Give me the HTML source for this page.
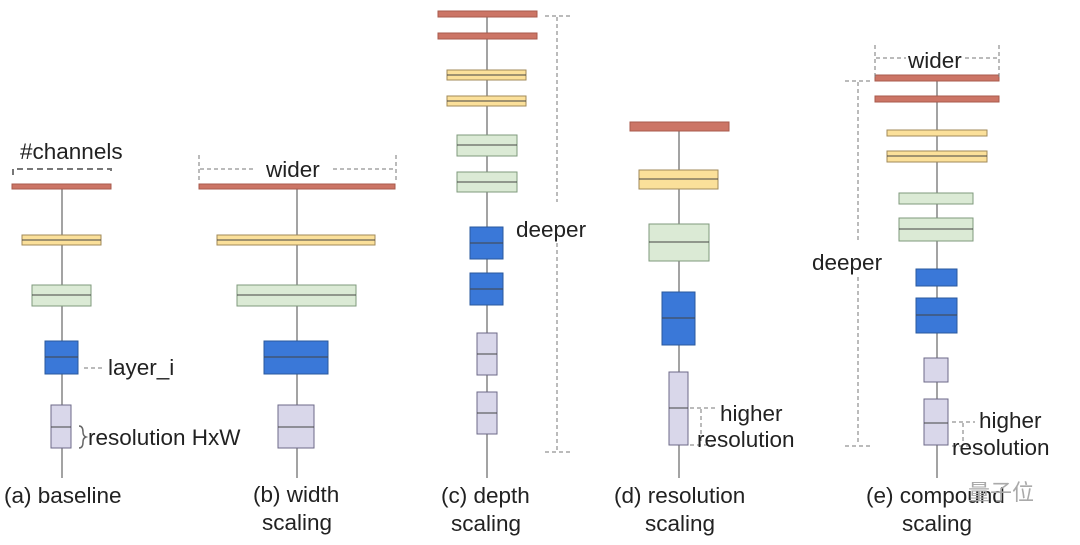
<!DOCTYPE html>
<html><head><meta charset="utf-8"><style>
html,body{margin:0;padding:0;background:#fff;}
svg text{font-family:"Liberation Sans",Arial,sans-serif;fill:#222;font-size:22.5px;}
.r{fill:#cc7566;stroke:#a85a4c;stroke-width:1}
.y{fill:#fbe09a;stroke:#a08a5a;stroke-width:1}
.g{fill:#dbead5;stroke:#7f9a7c;stroke-width:1}
.b{fill:#3a78d8;stroke:#2a589e;stroke-width:1}
.l{fill:#d9d7ea;stroke:#6d6a88;stroke-width:1}
.m{stroke:#444;stroke-width:1}
.ln{stroke:#666;stroke-width:1.2;fill:none}
.d{stroke:#777;stroke-width:1;stroke-dasharray:4,3;fill:none}
</style></head><body>
<svg width="1080" height="540" viewBox="0 0 1080 540" xmlns="http://www.w3.org/2000/svg">
<line class="ln" x1="62" y1="478" x2="62" y2="189"/>
<line class="ln" x1="297" y1="478" x2="297" y2="189"/>
<line class="ln" x1="487" y1="478" x2="487" y2="17"/>
<line class="ln" x1="679" y1="478" x2="679" y2="131"/>
<line class="ln" x1="937" y1="478" x2="937" y2="81"/>

<rect class="r" x="12" y="184" width="99" height="5"/>
<rect class="y" x="22" y="235" width="79" height="10"/><line class="m" x1="22" y1="240" x2="101" y2="240"/>
<rect class="g" x="32" y="285" width="59" height="21"/><line class="m" x1="32" y1="295" x2="91" y2="295"/>
<rect class="b" x="45" y="341" width="33" height="33"/><line class="m" x1="45" y1="357" x2="78" y2="357"/>
<rect class="l" x="51" y="405" width="20" height="43"/><line class="m" x1="51" y1="427" x2="71" y2="427"/>
<text x="20" y="159">#channels</text>
<path class="d" d="M13,175 V169 H111 V175" style="stroke-dasharray:6,4;stroke-width:2"/>
<line class="d" x1="84" y1="368" x2="104" y2="368"/>
<text x="108" y="375">layer_i</text>
<path d="M79,426 q4,0 4,6 q0,4 3,5 q-3,1 -3,5 q0,6 -4,6" stroke="#666" fill="none" stroke-width="1.5"/>
<text x="88" y="445">resolution HxW</text>
<text x="4" y="503">(a) baseline</text>

<rect class="r" x="199" y="184" width="196" height="5"/>
<rect class="y" x="217" y="235" width="158" height="10"/><line class="m" x1="217" y1="240" x2="375" y2="240"/>
<rect class="g" x="237" y="285" width="119" height="21"/><line class="m" x1="237" y1="295" x2="356" y2="295"/>
<rect class="b" x="264" y="341" width="64" height="33"/><line class="m" x1="264" y1="357" x2="328" y2="357"/>
<rect class="l" x="278" y="405" width="36" height="43"/><line class="m" x1="278" y1="427" x2="314" y2="427"/>
<line class="d" x1="199" y1="155" x2="199" y2="182"/><line class="d" x1="396" y1="155" x2="396" y2="182"/>
<line class="d" x1="200" y1="169" x2="255" y2="169"/><line class="d" x1="333" y1="169" x2="395" y2="169"/>
<text x="266" y="177">wider</text>
<text x="253" y="502">(b) width</text>
<text x="262" y="530">scaling</text>

<rect class="r" x="438" y="11" width="99" height="6"/>
<rect class="r" x="438" y="33" width="99" height="6"/>
<rect class="y" x="447" y="70" width="79" height="10"/><line class="m" x1="447" y1="75" x2="526" y2="75"/>
<rect class="y" x="447" y="96" width="79" height="10"/><line class="m" x1="447" y1="101" x2="526" y2="101"/>
<rect class="g" x="457" y="135" width="60" height="21"/><line class="m" x1="457" y1="145" x2="517" y2="145"/>
<rect class="g" x="457" y="172" width="60" height="20"/><line class="m" x1="457" y1="182" x2="517" y2="182"/>
<rect class="b" x="470" y="227" width="33" height="32"/><line class="m" x1="470" y1="243" x2="503" y2="243"/>
<rect class="b" x="470" y="273" width="33" height="32"/><line class="m" x1="470" y1="289" x2="503" y2="289"/>
<rect class="l" x="477" y="333" width="20" height="42"/><line class="m" x1="477" y1="354" x2="497" y2="354"/>
<rect class="l" x="477" y="392" width="20" height="42"/><line class="m" x1="477" y1="413" x2="497" y2="413"/>
<line class="d" x1="545" y1="16" x2="570" y2="16"/><line class="d" x1="545" y1="452" x2="570" y2="452"/>
<line class="d" x1="557" y1="17" x2="557" y2="202"/><line class="d" x1="557" y1="243" x2="557" y2="451"/>
<text x="516" y="237">deeper</text>
<text x="441" y="503">(c) depth</text>
<text x="451" y="531">scaling</text>

<rect class="r" x="630" y="122" width="99" height="9"/>
<rect class="y" x="639" y="170" width="79" height="19"/><line class="m" x1="639" y1="179" x2="718" y2="179"/>
<rect class="g" x="649" y="224" width="60" height="37"/><line class="m" x1="649" y1="242" x2="709" y2="242"/>
<rect class="b" x="662" y="292" width="33" height="53"/><line class="m" x1="662" y1="318" x2="695" y2="318"/>
<rect class="l" x="669" y="372" width="19" height="73"/><line class="m" x1="669" y1="408" x2="688" y2="408"/>
<line class="d" x1="690" y1="408" x2="715" y2="408"/><line class="d" x1="690" y1="445" x2="715" y2="445"/>
<line class="d" x1="701" y1="409" x2="701" y2="444"/>
<text x="720" y="421">higher</text>
<text x="697" y="447">resolution</text>
<text x="614" y="503">(d) resolution</text>
<text x="645" y="531">scaling</text>

<rect class="r" x="875" y="75" width="124" height="6"/>
<rect class="r" x="875" y="96" width="124" height="6"/>
<rect class="y" x="887" y="130" width="100" height="6"/>
<rect class="y" x="887" y="151" width="100" height="11"/><line class="m" x1="887" y1="156" x2="987" y2="156"/>
<rect class="g" x="899" y="193" width="74" height="11"/>
<rect class="g" x="899" y="218" width="74" height="23"/><line class="m" x1="899" y1="229" x2="973" y2="229"/>
<rect class="b" x="916" y="269" width="41" height="17"/>
<rect class="b" x="916" y="298" width="41" height="35"/><line class="m" x1="916" y1="315" x2="957" y2="315"/>
<rect class="l" x="924" y="358" width="24" height="24"/>
<rect class="l" x="924" y="399" width="24" height="46"/><line class="m" x1="924" y1="423" x2="948" y2="423"/>
<line class="d" x1="875" y1="45" x2="875" y2="80"/><line class="d" x1="999" y1="45" x2="999" y2="80"/>
<line class="d" x1="876" y1="58" x2="906" y2="58"/><line class="d" x1="965" y1="58" x2="998" y2="58"/>
<text x="908" y="68">wider</text>
<line class="d" x1="845" y1="81" x2="873" y2="81"/><line class="d" x1="845" y1="446" x2="870" y2="446"/>
<line class="d" x1="858" y1="82" x2="858" y2="243"/><line class="d" x1="858" y1="277" x2="858" y2="445"/>
<text x="812" y="270">deeper</text>
<line class="d" x1="952" y1="422" x2="975" y2="422"/><line class="d" x1="952" y1="446" x2="975" y2="446"/>
<line class="d" x1="963" y1="423" x2="963" y2="445"/>
<text x="979" y="428">higher</text>
<text x="952" y="455">resolution</text>
<text x="866" y="503">(e) compound</text>
<text x="902" y="531">scaling</text>
<text x="968" y="500" style="fill:#aaa;font-family:'Noto Sans CJK SC',sans-serif;font-size:22px">量子位</text>
</svg>
</body></html>
